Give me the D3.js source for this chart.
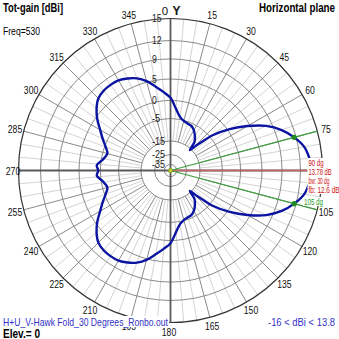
<!DOCTYPE html>
<html><head><meta charset="utf-8">
<script src="https://cdn.jsdelivr.net/npm/d3@7"></script>
<style>
html,body{margin:0;padding:0;background:#fff;}
svg{display:block;}
text{font-family:"Liberation Sans",Arial,sans-serif;}
</style></head>
<body>
<svg id="chart" width="339" height="339"></svg>
<script>
// ---- data ----
const angles = [0,5,10,15,20,25,30,35,40,43.5,46,48,50,55,60,65,70,75,80,85,90,
  95,100,105,110,115,120,125,130,132,134,136.5,140,145,150,155,160,165,170,175,180,
  185,190,195,200,205,210,215,220,225,230,235,240,245,250,255,261,266,270,
  274,279,285,290,295,300,305,310,315,320,325,330,335,340,345,350,355];
const gains = [0.6,-2.2,-4.3,-5.3,-5.9,-6.2,-7.4,-9.2,-11.5,-16,-12,-8.5,-4.2,0.5,4.4,7.8,10.1,11.7,12.8,13.3,13.78,
  13.3,12.8,11.7,10.1,7.8,4.4,0.5,-4.2,-8.5,-12,-16,-11.5,-9.2,-7.4,-6.2,-5.9,-5.3,-4.3,-2.2,0.6,
  2.0,3.5,5.2,6.3,7.0,7.5,7.6,7.5,7.1,6.0,4.5,2.6,1.1,-0.3,-1.3,-0.4,0.9,0.5,
  0.9,-0.4,-1.3,-0.3,1.1,2.6,4.5,6.0,7.1,7.5,7.6,7.5,7.0,6.3,5.2,3.5,2.0];
const ringValues = [15,12,9,5,0,-5,-15,-25,-35];
const ringLabels = ["15","12","9","5","0","-5","-15","-25","-35"];
const angleTicks = [15,30,45,60,75,105,120,135,150,165,180,195,210,225,240,255,270,285,300,315,330,345];
const beamDir = 90, beamLo = 75, beamHi = 105;
const infoLines = ["90 dg","13.78 dB","bw: 30 dg","fb: 12.6 dB"];
const loLabel = "105 dg";
const titleLeft = "Tot-gain [dBi]", titleRight = "Horizontal plane", freqText = "Freq=530";
const fileText = "H+U_V-Hawk Fold_30 Degrees_Ronbo.out", elevText = "Elev.= 0", rangeText = "-16 < dBi < 13.8";

// ---- layout ----
const svg = d3.select("#chart");
const cx = 170.5, cy = 170.5, R = 152;
const rScale = d3.scaleLinear()
  .domain([-35,-25,-15,-5,0,5,9,12,15])
  .range([0.04,0.105,0.194,0.342,0.461,0.602,0.734,0.855,1].map(f=>f*R));
const aScale = d3.scaleLinear().domain([0,360]).range([0,2*Math.PI]);
const pt = (deg,r)=>[r*Math.sin(aScale(deg)), -r*Math.cos(aScale(deg))];
const rInner = rScale(-15);
const numWidth = s => String(s).split("").reduce((w,c)=>w+(c==="-"?3.4:4.8),0);

svg.append("rect").attr("width",339).attr("height",339).attr("fill","#fff");
const g = svg.append("g").attr("transform",`translate(${cx},${cy})`);

// spokes
const spokes = d3.range(0,360,5);
g.selectAll("line.minor").data(spokes.filter(a=>a%15!==0)).join("line").attr("class","minor")
  .attr("x1",a=>pt(a,rInner)[0]).attr("y1",a=>pt(a,rInner)[1])
  .attr("x2",a=>pt(a,R)[0]).attr("y2",a=>pt(a,R)[1])
  .attr("stroke","#d4d4d4").attr("stroke-width",1);
g.selectAll("line.major").data(spokes.filter(a=>a%15===0 && a%90!==0)).join("line").attr("class","major")
  .attr("x1",a=>pt(a,rInner)[0]).attr("y1",a=>pt(a,rInner)[1])
  .attr("x2",a=>pt(a,R)[0]).attr("y2",a=>pt(a,R)[1])
  .attr("stroke","#8a8a8a").attr("stroke-width",1);
// rings
g.selectAll("circle.ring").data(ringValues.slice(1)).join("circle").attr("class","ring")
  .attr("r",d=>rScale(d)).attr("fill","none").attr("stroke","#8a8a8a").attr("stroke-width",1);
g.append("circle").attr("r",R).attr("fill","none").attr("stroke","#333").attr("stroke-width",1.2);
// axes
[0,90,180,270].forEach(a=>{
  const p = pt(a,R);
  g.append("line").attr("x1",0).attr("y1",0).attr("x2",p[0]).attr("y2",p[1])
   .attr("stroke","#5a5a5a").attr("stroke-width",1.8);
});
// ring labels
g.selectAll("text.rl").data(ringValues).join("text").attr("class","rl")
  .attr("x",-18.5).attr("y",d=>-rScale(d)).attr("dy","0.35em")
  .attr("font-size",10.5).attr("fill","#222")
  .attr("textLength",(d,i)=>numWidth(ringLabels[i])).attr("lengthAdjust","spacingAndGlyphs")
  .text((d,i)=>ringLabels[i]);
// angle labels
g.selectAll("text.al").data(angleTicks).join("text").attr("class","al")
  .attr("x",a=>{const p=pt(a,161); return a===270? -157.5 : a===180 ? -1.5 : p[0];})
  .attr("y",a=>a===180 ? 161.5 : pt(a,161)[1]).attr("dy","0.35em")
  .attr("text-anchor","middle").attr("font-size",11.5).attr("fill","#111")
  .attr("textLength",a=>numWidth(a)).attr("lengthAdjust","spacingAndGlyphs").text(a=>a);
g.append("text").attr("x",-5.5).attr("y",-160).attr("dy","0.35em").attr("text-anchor","middle")
  .attr("font-size",11.5).attr("fill","#111").text("0");
g.append("text").attr("x",6).attr("y",-160).attr("dy","0.35em").attr("text-anchor","middle")
  .attr("font-size",12).attr("font-weight","bold").attr("fill","#111").text("Y");

// beam lines
g.append("line").attr("x1",0).attr("y1",0).attr("x2",pt(beamDir,137.5)[0]).attr("y2",0)
  .attr("stroke","#c86464").attr("stroke-width",1.3);
[beamLo,beamHi].forEach(a=>{
  const p=pt(a,R);
  g.append("line").attr("x1",0).attr("y1",0).attr("x2",p[0]).attr("y2",p[1])
   .attr("stroke","#3fa03f").attr("stroke-width",1.2);
});

// pattern
const pts = angles.map((a,i)=>[aScale(a), rScale(gains[i])]);
g.append("path").datum(pts)
  .attr("d", d3.lineRadial().angle(d=>d[0]).radius(d=>d[1]).curve(d3.curveCatmullRomClosed.alpha(0.5)))
  .attr("fill","none").attr("stroke","#0a14a0").attr("stroke-width",2.4);

// -3dB dots
[beamLo,beamHi].forEach(a=>{
  const v = gains[angles.indexOf(a)];
  const p = pt(a, rScale(v));
  g.append("circle").attr("cx",p[0]).attr("cy",p[1]).attr("r",2.6).attr("fill","#1e8c1e");
});
g.append("circle").attr("r",2.2).attr("fill","#c8c832").attr("stroke","#6a9a2a").attr("stroke-width",0.8);

// info text
const infoW = [15,23,21,31];
svg.append("rect").attr("x",307.5).attr("y",158).attr("width",32).attr("height",36).attr("fill","#fff");
svg.selectAll("text.info").data(infoLines).join("text").attr("class","info")
  .attr("x",308.5).attr("y",(d,i)=>163+i*9).attr("dy","0.35em")
  .attr("font-size",9).attr("fill","#d01010")
  .attr("textLength",(d,i)=>infoW[i]).attr("lengthAdjust","spacingAndGlyphs").text(d=>d);
svg.append("rect").attr("x",303).attr("y",197).attr("width",21).attr("height",9).attr("fill","#fff");
svg.append("text").attr("x",304).attr("y",201.5).attr("dy","0.35em")
  .attr("font-size",9).attr("fill","#22a022")
  .attr("textLength",19).attr("lengthAdjust","spacingAndGlyphs").text(loLabel);

// header / footer
svg.append("text").attr("x",3).attr("y",12).attr("font-size",12).attr("font-weight","bold")
  .attr("fill","#000").attr("textLength",60).attr("lengthAdjust","spacingAndGlyphs").text(titleLeft);
svg.append("text").attr("x",335).attr("y",12).attr("text-anchor","end").attr("font-size",12).attr("font-weight","bold")
  .attr("fill","#000").attr("textLength",76).attr("lengthAdjust","spacingAndGlyphs").text(titleRight);
svg.append("text").attr("x",3).attr("y",35).attr("font-size",11.5).attr("fill","#000")
  .attr("textLength",37).attr("lengthAdjust","spacingAndGlyphs").text(freqText);
svg.append("rect").attr("x",2).attr("y",316).attr("width",167).attr("height",11).attr("fill","#fff");
svg.append("text").attr("x",3).attr("y",326).attr("font-size",11.5).attr("fill","#3232c8")
  .attr("textLength",165).attr("lengthAdjust","spacingAndGlyphs").text(fileText);
svg.append("text").attr("x",3).attr("y",337.5).attr("font-size",12).attr("font-weight","bold").attr("fill","#000")
  .attr("textLength",37).attr("lengthAdjust","spacingAndGlyphs").text(elevText);
svg.append("text").attr("x",335).attr("y",326).attr("text-anchor","end").attr("font-size",11.5).attr("fill","#3232c8")
  .attr("textLength",67).attr("lengthAdjust","spacingAndGlyphs").text(rangeText);
</script>
</body></html>
